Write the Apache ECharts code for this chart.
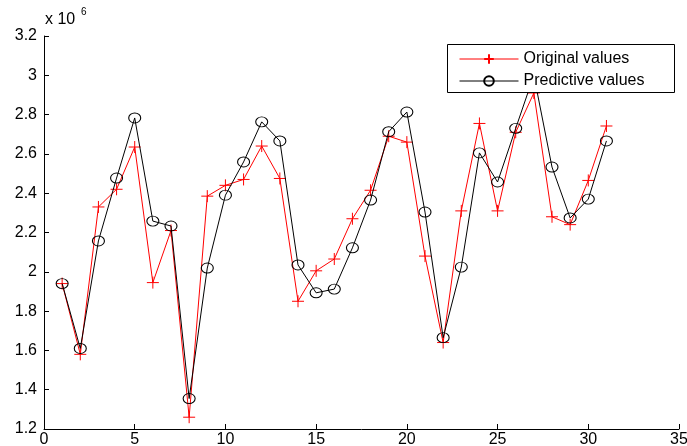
<!DOCTYPE html>
<html>
<head>
<meta charset="utf-8">
<script src="https://cdn.jsdelivr.net/npm/echarts@6/dist/echarts.min.js"></script>
<style>html,body{margin:0;padding:0;background:#fff;}#c{width:687px;height:446px;}</style>
</head>
<body>
<div id="c"></div>
<script>
// values in units of 10^6
var xValues = [1,2,3,4,5,6,7,8,9,10,11,12,13,14,15,16,17,18,19,20,21,22,23,24,25,26,27,28,29,30,31];
var originalValues = [1.94,1.58,2.33,2.42,2.635,1.945,2.21,1.26,2.385,2.44,2.47,2.64,2.475,1.85,2.005,2.065,2.27,2.415,2.69,2.66,2.08,1.64,2.31,2.755,2.31,2.71,2.91,2.28,2.24,2.465,2.742];
var predictiveValues = [1.94,1.61,2.157,2.477,2.783,2.258,2.233,1.355,2.019,2.39,2.559,2.763,2.666,2.035,1.893,1.912,2.122,2.365,2.713,2.813,2.304,1.665,2.024,2.605,2.457,2.73,3.0,2.533,2.274,2.37,2.666];
var seriesNames = ['Original values','Predictive values'];
var xTicks = {min:0, max:35, interval:5};
var yTicks = {min:1.2, max:3.2, interval:0.2};

function pairs(xs, ys){ return xs.map(function(x,i){return [x, ys[i]];}); }

var font = '"Liberation Sans", Arial, sans-serif';
var chart = echarts.init(document.getElementById('c'), null, {renderer:'canvas'});
chart.setOption({
  animation:false,
  backgroundColor:'#fff',
  grid:{left:44, right:8, top:36, bottom:17, containLabel:false, outerBoundsMode:'none'},
  xAxis:{type:'value', min:xTicks.min, max:xTicks.max, interval:xTicks.interval,
    axisLine:{lineStyle:{color:'#000', width:1}},
    axisTick:{inside:true, length:5, lineStyle:{color:'#000'}},
    axisLabel:{color:'#000', fontFamily:font, fontSize:16, margin:3, showMaxLabel:true},
    splitLine:{show:false}},
  yAxis:{type:'value', min:yTicks.min, max:yTicks.max, interval:yTicks.interval,
    axisLine:{show:true, lineStyle:{color:'#000', width:1}},
    axisTick:{show:true, inside:true, length:5, lineStyle:{color:'#000'}},
    axisLabel:{color:'#000', fontFamily:font, fontSize:16, margin:7,
      formatter:function(v){return String(Math.round(v*10)/10);}},
    splitLine:{show:false}},
  legend:{orient:'vertical', left:447, top:44, padding:[7,0,3,12], z:20,
    itemWidth:59, itemHeight:12, itemGap:6,
    lineStyle:{width:1},
    textStyle:{color:'#000', fontFamily:font, fontSize:16},
    data:seriesNames},
  graphic:[
    {type:'rect', z:10, shape:{x:447.5, y:44.5, width:227, height:48},
      style:{fill:'#fff', stroke:'#000', lineWidth:1}},
    {type:'text', left:45, top:12, style:{text:'x 10', fill:'#000', font:'16px ' + font}},
    {type:'text', left:81, top:7, style:{text:'6', fill:'#000', font:'10px ' + font}}
  ],
  series:[
    {name:seriesNames[0], type:'line', data:pairs(xValues, originalValues),
      symbol:'path://M0,6H12M6,0V12', symbolSize:12,
      lineStyle:{color:'#ff0000', width:1},
      itemStyle:{color:'#ff0000', borderColor:'#ff0000', borderWidth:1},
      z:2},
    {name:seriesNames[1], type:'line', data:pairs(xValues, predictiveValues),
      symbol:'path://M0,5A6,5 0 1,1 12,5A6,5 0 1,1 0,5Z', symbolSize:[12,10],
      lineStyle:{color:'#000', width:1},
      itemStyle:{color:'rgba(0,0,0,0)', borderColor:'#000', borderWidth:1},
      z:3}
  ]
});
</script>
</body>
</html>
